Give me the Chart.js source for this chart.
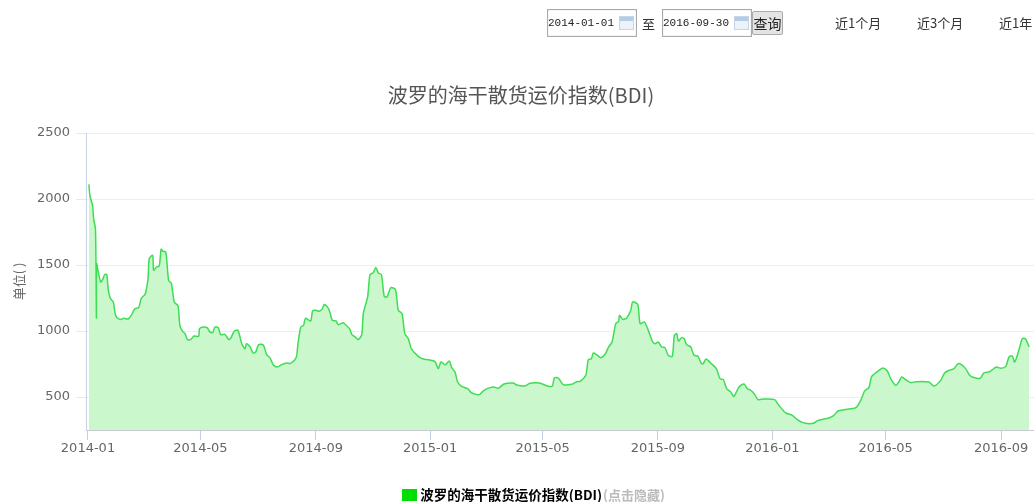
<!DOCTYPE html>
<html lang="zh">
<head>
<meta charset="utf-8">
<title>波罗的海干散货运价指数(BDI)</title>
<script src="https://cdn.jsdelivr.net/npm/chart.js@4"></script>
<style>
html,body{margin:0;padding:0;width:1034px;height:502px;overflow:hidden;background:#fff}
#wrap{position:relative;width:1034px;height:502px;overflow:hidden}
canvas{position:absolute;left:0;top:0}
.t{position:absolute;font-family:"Noto Sans CJK SC",sans-serif;font-size:13px;color:#333;white-space:nowrap;line-height:16px}
.inp{position:absolute;top:9px;width:88px;height:26px;border:1px solid #aaa;box-shadow:inset 0 0 1px #999;background:#fff;font:11px/27px "Liberation Mono",monospace;color:#222;box-sizing:content-box}
.inp span{position:absolute;left:0;top:0}
.inp i{position:absolute;right:2px;top:6px;width:15px;height:14px;background:linear-gradient(#b4cde6 0 4px,#eef2f7 4px);border:1px solid #c3d5e6;box-sizing:border-box}
#btn{position:absolute;left:752px;top:11px;width:31px;height:24px;background:#e4e4e4;border:1px solid #aaa;border-radius:2px;box-sizing:border-box;font:14px/22px "Noto Sans CJK SC",sans-serif;color:#222;text-align:center}
#hide{position:absolute;left:603px;top:487px;font:bold 13px/15px "Noto Sans CJK SC",sans-serif;color:#bbb;white-space:nowrap}
</style>
</head>
<body>
<div id="wrap">
<canvas id="c" width="1042" height="502"></canvas>
<div class="inp" style="left:547px"><span>2014-01-01</span><i></i></div>
<div class="t" style="left:642px;top:16px">至</div>
<div class="inp" style="left:662px"><span>2016-09-30</span><i></i></div>
<div id="btn">查询</div>
<div class="t" style="left:835px;top:15px">近1个月</div>
<div class="t" style="left:917px;top:15px">近3个月</div>
<div class="t" style="left:999px;top:15px">近1年</div>
<div id="hide">(点击隐藏)</div>
</div>
<script>
const chartTitle = "波罗的海干散货运价指数(BDI)";
const seriesName = "波罗的海干散货运价指数(BDI)";
const axisTitle = "单位( )";
const tickLabels = ["2014-01","2014-05","2014-09","2015-01","2015-05","2015-09","2016-01","2016-05","2016-09"];
// days elapsed since 2014-01-01 for each month tick
const tickDays = [0,120,243,365,485,608,730,851,974];
const yTicks = [500,1000,1500,2000,2500];
// days elapsed since 2014-01-01 for each reading
const days = [1,2,5,6,8,9,9.2,11,13.5,15.6,17.8,20,21.7,24,27,29,31,35,38,43,46.6,50,54,57,61,64,65.4,69,70,73,76,78,80,83,86,89,92,96,98,100.6,103.5,106,109.5,113,118,119,123,127,130,133,135.5,139,141.5,146,150,152,156,160,164,167.5,169,173,176,179,182,187,190.6,194,198,202,206.6,212,216,222,224,227,230,232,237.5,239.6,243,247,250,252,256,258,260.6,264.6,267,272.4,276,279,281.6,285,288.4,292,293.7,298.3,300.8,304.4,307,309.7,313,316,319,323,328,331,335,338,341.7,345,352.4,357.7,363,370,373.7,376.5,381,385.4,388,391.5,394.3,398.6,405,409,414.6,418,422.4,428.8,433,437.7,443.8,453.7,457.3,466,471.5,481.4,491,495.3,497.5,501.7,507,516,521.3,525,531,533.7,537,539,542.6,547,552,555,559,563,566,567,570.4,574.6,579,581,586.4,589,593.5,597.7,602.4,605,608.4,612,615.5,619,623.3,625.5,628,629.8,633.3,636,638.6,643,646.5,650.7,654.3,656.4,659.3,664.2,670.3,674.2,677.8,681.3,685.6,689,694.5,699.8,703.4,707,711.2,714.7,721,732.5,737,744.3,751.4,756.7,762,769,774.5,778.8,785,791,795.8,800,806.5,819,824.3,828.5,833,835.7,838.5,843.8,848,852.7,856.3,861.6,865,868,872.3,877.6,883,897,902.5,909.6,914,918.5,923.8,927.4,930.2,936.3,940.6,945,951.6,955.8,961.9,969,973.6,979,982.5,986,988.5,993,996.7,1000,1004];
const bdi = [2111,2028,1947,1851,1770,1100,1510,1447,1371,1389,1427,1427,1308,1245,1220,1131,1101,1088,1096,1091,1124,1169,1177,1250,1278,1397,1548,1573,1460,1485,1492,1619,1604,1599,1384,1359,1220,1190,1043,1000,980,935,935,962,960,1018,1030,1025,993,988,1030,1025,972,975,937,942,998,1005,904,864,904,879,833,841,897,894,821,798,740,727,745,758,755,798,904,1030,1043,1096,1076,1152,1157,1149,1169,1200,1177,1144,1081,1076,1048,1063,1038,1018,972,955,935,972,1131,1258,1427,1442,1482,1440,1427,1263,1258,1328,1313,1157,1131,980,942,866,808,788,783,770,715,765,745,773,722,690,614,581,563,533,518,520,551,571,576,566,599,606,591,583,604,606,581,583,644,644,594,596,616,619,664,783,790,833,821,798,828,874,917,1056,1073,1119,1088,1099,1157,1220,1202,1056,1068,1005,917,904,917,879,874,816,808,967,980,924,950,942,897,879,816,808,753,753,788,758,715,639,631,563,538,505,576,599,563,551,520,480,485,480,437,379,361,328,308,298,303,323,333,343,361,394,404,419,475,546,571,652,672,702,720,697,639,588,614,652,631,609,616,614,583,626,684,702,715,748,753,715,664,647,642,682,692,727,717,732,803,811,765,854,942,942,879];

const FAM = '"DejaVu Sans", sans-serif';
const CJK = '"Noto Sans CJK SC", sans-serif';

// legend swatch, a 15 x 12 green block
const swatch = document.createElement('canvas');
swatch.width = 15;
swatch.height = 12;
const sctx = swatch.getContext('2d');
sctx.fillStyle = '#00dd00';
sctx.fillRect(0, 0, 15, 12);

const shiftLegend = {
  id: 'shiftLegend',
  afterLayout(chart) {
    const l = chart.legend;
    l.right = chart.width - 34;
    l.top += 9.5;
    l.bottom += 9.5;
  }
};

new Chart(document.getElementById('c'), {
  type: 'line',
  plugins: [shiftLegend],
  data: {
    datasets: [{
      label: seriesName,
      data: days.map((d, i) => ({ x: d, y: bdi[i] })),
      borderColor: '#3fdd55',
      backgroundColor: '#caf7cc',
      borderWidth: 1.5,
      fill: 'start',
      pointRadius: 0,
      tension: 0.25
    }]
  },
  options: {
    responsive: false,
    animation: false,
    layout: { padding: 0 },
    plugins: {
      tooltip: { enabled: false },
      title: {
        display: true,
        text: chartTitle,
        color: '#555',
        font: { family: CJK, size: 20, weight: 'normal' },
        padding: { top: 83, bottom: 26 }
      },
      legend: {
        display: true,
        position: 'bottom',
        labels: {
          usePointStyle: true,
          pointStyleWidth: 7.5,
          boxHeight: 12,
          padding: 1,
          color: '#333',
          font: { family: CJK, size: 13.5, weight: 'bold' },
          generateLabels: () => [{ text: seriesName, pointStyle: swatch, fillStyle: '#00dd00', strokeStyle: '#00dd00', lineWidth: 0 }]
        }
      }
    },
    scales: {
      x: {
        type: 'linear',
        min: -2.13,
        max: 1017.7,
        afterBuildTicks(s) { s.ticks = tickDays.map(v => ({ value: v })); },
        afterFit(s) { s.height = 47.5; },
        grid: { display: true, drawOnChartArea: false, tickLength: 10, tickColor: '#c0d0e0', color: '#c0d0e0' },
        border: { color: '#c8ccd2', width: 1 },
        ticks: {
          autoSkip: false, maxRotation: 0, minRotation: 0, padding: 1,
          color: '#666', font: { family: FAM, size: 13 },
          callback: (v, i) => tickLabels[i]
        }
      },
      y: {
        type: 'linear',
        min: 250,
        max: 2500,
        afterBuildTicks(s) { s.ticks = yTicks.map(v => ({ value: v })); },
        afterFit(s) { s.width = 86; },
        title: {
          display: true,
          text: axisTitle,
          color: '#666',
          font: { family: CJK, size: 13, weight: 'normal' },
          padding: { top: 11, bottom: 0 }
        },
        grid: { color: '#eeeeee', lineWidth: 1, tickLength: 10, tickColor: '#e4e8ee' },
        border: { color: '#c8d4e4', width: 1 },
        ticks: { padding: 6, color: '#666', font: { family: FAM, size: 13 }, callback: v => String(v) }
      }
    }
  }
});
</script>
</body>
</html>
